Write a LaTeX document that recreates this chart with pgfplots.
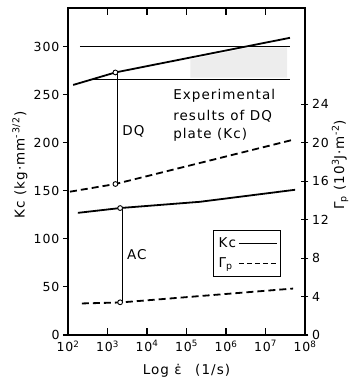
\documentclass[border=0pt]{standalone}
\usepackage{fontspec}
\setmainfont{DejaVu Sans}[LetterSpace=8]
\usepackage{pgfplots}
\pgfplotsset{compat=1.18}
\newcommand\tfont{\fontsize{12.5}{15}\selectfont}
\newcommand\lfont{\fontsize{13.5}{16}\selectfont}
\pgfplotsset{
  common/.style={at={(68pt,46pt)}, anchor=south west, scale only axis,
    width=237pt, height=327pt, xmin=2, xmax=8,
    /pgf/number format/assume math mode=true,
    axis line style={line width=1.2pt},
    every tick/.style={line width=1.1pt, black},
    ticklabel style={font=\tfont}},
}
\begin{document}
\begin{tikzpicture}[x=1pt,y=1pt]
% main axis with data (left units)
\begin{axis}[common, ymin=0, ymax=340,
  xtick={2,3,4,5,6,7,8},
  xticklabels={10\textsuperscript{2},10\textsuperscript{3},10\textsuperscript{4},10\textsuperscript{5},10\textsuperscript{6},10\textsuperscript{7},10\textsuperscript{8}},
  xticklabel style={yshift=-2pt},
  tick align=inside, major tick length=7pt, ytick=\empty,
  xlabel={Log ε̇\quad(1/s)}, xlabel style={font=\lfont, yshift=-6pt},
  clip=false]
  % stippled experimental region
  \addplot[fill=gray!14, draw=none] coordinates {(5.1,267.5)(7.55,267.5)(7.55,299)(6.6,299)(5.1,286.5)} -- cycle;
  \addplot[line width=1.1pt] coordinates {(2.3,300)(7.62,300)};
  \addplot[line width=1.1pt] coordinates {(2.6,266)(7.62,266)};
  % DQ Kc
  \addplot[line width=1.8pt] coordinates {(2.13,260)(2.6,265.7)(3.2,273)(5.0,287.7)(7.62,309)};
  % AC Kc
  \addplot[line width=1.8pt] coordinates {(2.25,127)(3.32,132)(5.34,138.5)(7.75,151)};
  % connectors
  \addplot[line width=0.9pt] coordinates {(3.26,272)(3.26,157)};
  \addplot[line width=0.9pt] coordinates {(3.38,131)(3.38,34.5)};
  % circles
  \addplot[only marks, mark=*, mark size=2.4pt, mark options={fill=white, draw=black, line width=0.9pt}] coordinates {(3.2,273)(3.32,132)};
  \node[font=\lfont, anchor=base west, inner sep=0pt] at (axis cs:3.37,207) {DQ};
  \node[font=\lfont, anchor=base west, inner sep=0pt] at (axis cs:3.49,78) {AC};
  \node[font=\lfont, anchor=base west, inner sep=0pt] at (axis cs:4.66,244.8) {Experimental};
  \node[font=\lfont, anchor=base west, inner sep=0pt] at (axis cs:4.66,223.2) {results of DQ};
  \node[font=\lfont, anchor=base west, inner sep=0pt] at (axis cs:4.66,204.7) {plate (Kc)};
\end{axis}
% left axis ticks (outside)
\begin{axis}[common, ymin=0, ymax=340, axis x line=none, axis y line*=left,
  ytick={0,50,100,150,200,250,300}, tick align=outside, major tick length=5pt,
  ylabel={Kc (kg·mm\textsuperscript{-3/2})},
  ylabel style={font=\lfont, at={(axis description cs:-0.203,0.52)}, anchor=center}]
  \addplot[draw=none] coordinates {(2,0)};
\end{axis}
% right axis (Gamma_p)
\begin{axis}[common, ymin=0, ymax=34, axis x line=none, axis y line*=right,
  ytick={0,4,8,12,16,20,24}, tick align=center, major tick length=7pt,
  ylabel={Γ\textsubscript{p} (10\textsuperscript{3}J·m\textsuperscript{-2})},
  ylabel style={font=\lfont, at={(axis description cs:1.148,0.52)}, anchor=center},
  legend plot pos=right, legend cell align=left,
  legend style={at={(0.612,0.321)}, anchor=north west, font=\lfont, draw=black, line width=1.2pt,
    inner xsep=3pt, inner ysep=5pt, row sep=5pt},
  legend image code/.code={\draw[#1] (0pt,0pt) -- (38pt,0pt);}]
  \addplot[line width=1.8pt, dash pattern=on 7pt off 4pt, forget plot] coordinates {(2.05,14.9)(3.2,15.7)(7.7,20.3)};
  \addplot[line width=1.8pt, dash pattern=on 7pt off 4pt, forget plot] coordinates {(2.35,3.28)(3.32,3.38)(7.7,4.83)};
  \addplot[only marks, mark=*, mark size=2.4pt, mark options={fill=white, draw=black, line width=0.9pt}, forget plot] coordinates {(3.2,15.7)(3.32,3.4)};
  \addlegendimage{line width=1.6pt}
  \addlegendentry{Kc}
  \addlegendimage{line width=1.6pt, dash pattern=on 5pt off 3pt}
  \addlegendentry{Γ\textsubscript{p}}
\end{axis}
\pgfresetboundingbox
\useasboundingbox (0,0) rectangle (352,381);
\end{tikzpicture}
\end{document}
